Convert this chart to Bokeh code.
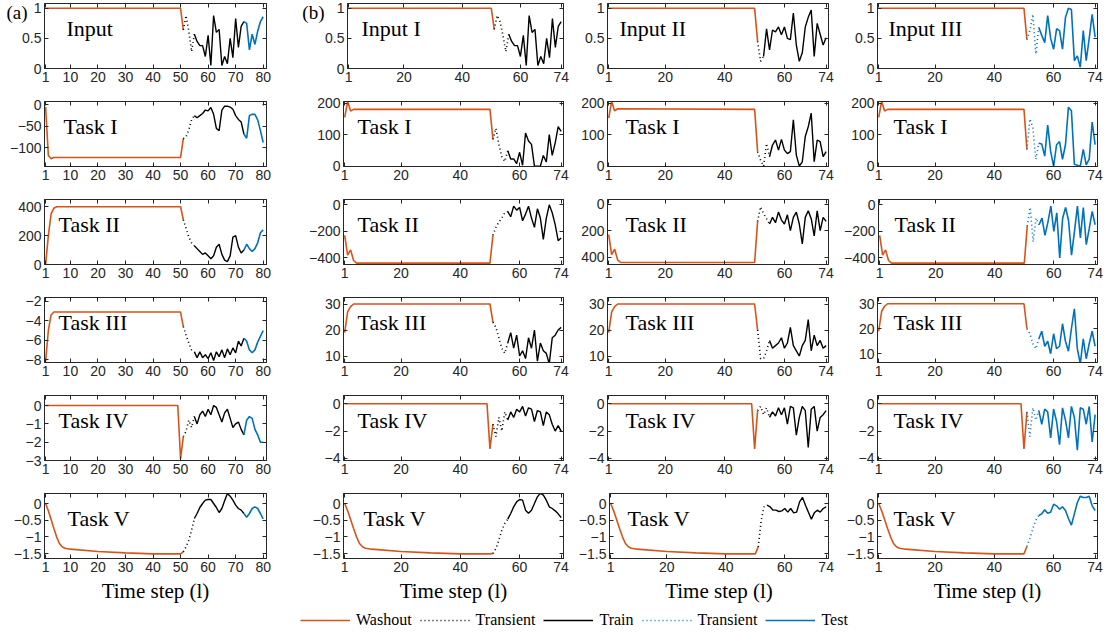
from bokeh.plotting import figure
from bokeh.models import (Range1d, FixedTicker, LinearAxis, Label, Legend, LegendItem,
                          CustomJSTickFormatter)
from bokeh.layouts import column, row
from bokeh.embed import file_html
from bokeh.resources import INLINE

# ---------------- data ----------------
# Column (a): time steps 1..80 ; washout (orange), transient (dotted black), train (black), test (blue)
A_IN_WASH_X = [1, 50, 51]
A_IN_WASH_Y = [1, 1, 0.64]
A_IN_TRANS = [0.64, 0.88, 0.62, 0.28, 0.57]                      # from 51
A_IN_TRAIN = [0.57, 0.45, 0.38, 0.38, 0.2, 0.55, 0.05, 0.88, 0.6, 0.65, 0.05, 0.2, 0.08, 0.5, 0.18, 0.83, 0.35, 0.7, 0.78]  # from 55
A_IN_TEST = [0.78, 0.75, 0.31, 0.57, 0.4, 0.62, 0.78, 0.86]     # from 73

A_T1_WASH_X = [1, 2, 3, 4, 50, 51]
A_T1_WASH_Y = [-5, -118, -126, -123, -123, -79]
A_T1_TRANS = [-79, -75, -58, -35, -25]
A_T1_TRAIN = [-25, -30, -25, -20, -12, -14, -6, -22, -55, -60, -12, -3, -3, -5, -10, -25, -34, -40, -68]
A_T1_TEST = [-68, -78, -25, -22, -22, -35, -60, -88]

A_T2_WASH_X = [1, 2, 3, 4, 5, 50, 51]
A_T2_WASH_Y = [0, 200, 350, 390, 400, 400, 310]
A_T2_TRANS = [310, 250, 190, 150, 130]
A_T2_TRAIN = [130, 110, 90, 70, 80, 60, 40, 60, 120, 140, 70, 30, 20, 60, 190, 200, 120, 80, 100]
A_T2_TEST = [100, 140, 110, 90, 110, 150, 220, 240]

A_T3_WASH_X = [1, 2, 3, 4, 50, 51]
A_T3_WASH_Y = [-8.2, -5, -3.4, -3.1, -3.1, -4.6]
A_T3_TRANS = [-4.6, -5.5, -6.3, -7.0, -7.2]
A_T3_TRAIN = [-7.2, -7.8, -7.2, -7.8, -7.5, -7.9, -7.3, -8.1, -7.2, -7.7, -7.0, -7.8, -6.9, -7.5, -6.8, -7.3, -6.1, -6.6, -5.8]
A_T3_TEST = [-5.8, -6.1, -7.0, -7.3, -7.0, -6.2, -5.6, -5.0]

A_T4_WASH_X = [1, 49, 50, 51]
A_T4_WASH_Y = [0, 0, -2.9, -1.7]
A_T4_TRANS = [-1.7, -1.4, -0.8, -1.2, -0.6]
A_T4_TRAIN = [-0.6, -1.0, -0.5, -0.3, -0.6, -0.2, -0.5, 0.0, -0.1, -0.5, -0.9, -0.4, -0.2, -0.7, -1.2, -1.0, -0.9, -1.3, -1.6]
A_T4_TEST = [-1.6, -0.8, -0.6, -0.7, -1.3, -1.6, -2.0, -2.0]

T5_WASH_X = [1, 2, 3, 4, 5, 6, 7, 8, 10, 20, 30, 40, 50]
T5_WASH_Y = [0, -0.22, -0.48, -0.75, -1.0, -1.2, -1.3, -1.34, -1.37, -1.44, -1.48, -1.51, -1.51]

A_T5_END = -1.45
A_T5_TRANS = [-1.45, -1.3, -1.1, -0.8, -0.45]
A_T5_TRAIN = [-0.45, -0.3, -0.12, 0.0, 0.1, 0.12, 0.12, 0.0, -0.12, -0.27, -0.15, 0.08, 0.3, 0.22, 0.1, -0.05, -0.15, -0.2, -0.3]
A_T5_TEST = [-0.3, -0.41, -0.3, -0.15, -0.1, -0.15, -0.3, -0.46]

# Column (b) left: time steps 1..74 (train only)
B_IN_WASH_Y = [1, 1, 0.65]
B_IN_TRANS = [0.65, 0.88, 0.78, 0.55, 0.28, 0.57]
B_IN_TRAIN = [0.57, 0.45, 0.38, 0.38, 0.2, 0.55, 0.05, 0.88, 0.6, 0.65, 0.05, 0.2, 0.08, 0.5, 0.18, 0.83, 0.35, 0.7, 0.78]

B_T1_WASH_Y = [155, 205, 175, 180, 180, 85]
B_T1_TRANS = [85, 120, 69, 30, 15, 49]
B_T1_TRAIN = [49, 23, 23, 8, 44, 3, 105, 80, 69, 0, 0, 0, 34, 13, 100, 34, 74, 125, 110]

B_T2_WASH_Y = [-230, -380, -340, -420, -440, -440, -230]
B_T2_TRANS = [-230, -170, -130, -100, -60, -50]
B_T2_TRAIN = [-50, -90, -10, -40, -20, -120, -70, -10, -100, -170, -30, -100, -260, -100, 0, -60, -150, -270, -250]

B_T3_WASH_Y = [19, 27, 29, 30, 30, 23]
B_T3_TRANS = [23, 21, 17, 13, 11, 15]
B_T3_TRAIN = [15, 19, 13, 18, 10, 12, 9, 17, 13, 20, 8, 15, 12, 11, 7, 17, 18, 20, 21]

B_T4_WASH_Y = [0, 0, -3.3, -1.5]
B_T4_TRANS = [-1.5, -2.4, -1.0, -2.0, -0.6, -1.2]
B_T4_TRAIN = [-1.2, -0.6, -1.0, -0.4, -0.6, -0.2, -0.9, -0.3, -0.4, -1.3, -0.5, -0.6, -1.6, -0.6, -0.8, -1.5, -2.0, -1.6, -2.0]

B_T5_END = -1.5
B_T5_TRANS = [-1.5, -1.35, -1.1, -0.8, -0.6, -0.47]
B_T5_TRAIN = [-0.47, -0.3, -0.1, 0.05, 0.12, 0.1, -0.2, -0.29, -0.2, 0.0, 0.2, 0.31, 0.25, 0.1, -0.1, -0.15, -0.22, -0.31, -0.42]

# Column (b) middle
C_IN_WASH_Y = [1, 1, 0.45]
C_IN_TRANS = [0.45, 0.12, 0.2]
C_IN_TRAIN = [0.2, 0.66, 0.31, 0.64, 0.61, 0.69, 0.56, 0.69, 0.5, 0.48, 0.92, 0.39, 0.12, 0.26, 0.69, 0.85, 0.97, 0.2, 0.75, 0.57, 0.39, 0.51]

C_T1_WASH_Y = [152, 205, 175, 182, 180, 46]
C_T1_TRANS = [46, 19, 0, 72, 30]
C_T1_TRAIN = [30, 67, 83, 51, 85, 51, 40, 46, 147, 35, 0, 14, 94, 125, 168, 14, 83, 78, 30, 46]

C_T2_WASH_Y = [230, 380, 340, 420, 440, 440, 130]
C_T2_TRANS = [130, 20, 70, 110, 150]
C_T2_TRAIN = [150, 100, 140, 60, 120, 150, 80, 200, 100, 60, 150, 300, 100, 50, 110, 240, 50, 200, 100, 130]

C_T3_WASH_Y = [19, 27, 29, 30, 30, 20]
C_T3_TRANS = [20, 9, 9, 12, 16]
C_T3_TRAIN = [16, 13, 14, 15, 17, 13, 15, 21, 14, 12, 10, 14, 16, 24, 12, 18, 14, 16, 13, 14]

C_T4_WASH_Y = [0, 0, -3.3, -0.5]
C_T4_TRANS = [-0.5, -0.2, -0.8, -0.3, -1.0]
C_T4_TRAIN = [-1.0, -0.6, -0.9, -0.3, -0.8, -0.3, -1.5, -0.2, -0.3, -2.3, -1.0, -0.2, -0.5, -3.2, -0.4, -0.2, -2.0, -1.0, -0.8, -0.5]

C_T5_END = -1.3
C_T5_TRANS = [-1.3, -0.5, -0.08, -0.05]
C_T5_TRAIN = [-0.05, -0.1, -0.2, -0.2, -0.24, -0.22, -0.15, -0.26, -0.15, -0.28, -0.26, 0.05, 0.18, -0.05, -0.26, -0.47, -0.28, -0.2, -0.26, -0.15, -0.1]

# Column (b) right (test only)
D_IN_WASH_Y = [1, 1, 0.48]
D_IN_TRANS = [0.48, 0.63, 0.9, 0.24, 0.68]
D_IN_TEST = [0.68, 0.55, 0.43, 0.88, 0.5, 0.32, 0.66, 0.63, 0.32, 0.85, 1.0, 0.98, 0.13, 0.21, 0.02, 0.63, 0.13, 0.5, 0.9, 0.52]

D_T1_WASH_Y = [155, 205, 175, 180, 180, 53]
D_T1_TRANS = [53, 150, 122, 22, 73]
D_T1_TEST = [73, 70, 32, 130, 47, 0, 68, 78, 22, 68, 187, 176, 6, 3, 0, 53, 4, 22, 140, 68]

D_T2_WASH_Y = [-230, -380, -340, -420, -440, -440, -160]
D_T2_TRANS = [-160, -20, -280, -100, -150]
D_T2_TEST = [-150, -100, -230, -130, -10, -200, -60, -400, -100, -20, -120, -380, -200, -10, -250, -20, -300, -180, -50, -150]

D_T3_WASH_Y = [19, 27, 29, 30, 30, 20]
D_T3_TRANS = [20, 18, 14, 12, 16]
D_T3_TEST = [16, 19, 13, 15, 10, 18, 12, 13, 22, 15, 11, 20, 28, 12, 6, 16, 8, 14, 19, 13]

D_T4_WASH_Y = [0, 0, -3.3, -0.6]
D_T4_TRANS = [-0.6, -2.4, -0.3, -1.2, -0.5]
D_T4_TEST = [-0.5, -1.5, -0.4, -0.6, -2.5, -0.4, -1.3, -3.0, -0.3, -1.2, -2.5, -0.2, -1.0, -3.4, -0.3, -0.4, -1.5, -0.2, -2.8, -0.8]

D_T5_END = -1.29
D_T5_TRANS = [-1.29, -1.04, -0.75, -0.5, -0.36]
D_T5_TEST = [-0.36, -0.31, -0.19, -0.29, -0.26, -0.02, -0.07, -0.17, -0.1, -0.21, -0.45, -0.65, -0.31, 0.03, 0.22, 0.18, 0.18, 0.22, -0.07, -0.21]

IN_X = [1, 50, 51]
T1_X = [1, 2, 3, 4, 50, 51]
T2_X = [1, 2, 3, 4, 5, 50, 51]
T3_X = [1, 2, 3, 4, 50, 51]
T4_X = [1, 49, 50, 51]

PANEL_NAMES = [
    ["Input", "Task I", "Task II", "Task III", "Task IV", "Task V"],
    ["Input I", "Task I", "Task II", "Task III", "Task IV", "Task V"],
    ["Input II", "Task I", "Task II", "Task III", "Task IV", "Task V"],
    ["Input III", "Task I", "Task II", "Task III", "Task IV", "Task V"],
]
PART_TAGS = ["(a)", "(b)", None, None]
X_TICKS = [[1, 10, 20, 30, 40, 50, 60, 70, 80], [1, 20, 40, 60, 74], [1, 20, 40, 60, 74], [1, 20, 40, 60, 74]]
Y_TICKS = [
    [[0, 0.5, 1], [-100, -50, 0], [0, 200, 400], [-8, -6, -4, -2], [-3, -2, -1, 0], [-1.5, -1, -0.5, 0]],
    [[0, 0.5, 1], [0, 100, 200], [-400, -200, 0], [10, 20, 30], [-4, -2, 0], [-1.5, -1, -0.5, 0]],
    [[0, 0.5, 1], [0, 100, 200], [0, 200, 400], [10, 20, 30], [-4, -2, 0], [-1.5, -1, -0.5, 0]],
    [[0, 0.5, 1], [0, 100, 200], [-400, -200, 0], [10, 20, 30], [-4, -2, 0], [-1.5, -1, -0.5, 0]],
]
LEGEND_LABELS = ["Washout", "Transient", "Train", "Transient", "Test"]


def seg(start, ys):
    return list(range(start, start + len(ys))), ys


PANELS = [
    [
        (A_IN_WASH_X, A_IN_WASH_Y, 51, A_IN_TRANS, (55, A_IN_TRAIN), (73, A_IN_TEST)),
        (A_T1_WASH_X, A_T1_WASH_Y, 51, A_T1_TRANS, (55, A_T1_TRAIN), (73, A_T1_TEST)),
        (A_T2_WASH_X, A_T2_WASH_Y, 51, A_T2_TRANS, (55, A_T2_TRAIN), (73, A_T2_TEST)),
        (A_T3_WASH_X, A_T3_WASH_Y, 51, A_T3_TRANS, (55, A_T3_TRAIN), (73, A_T3_TEST)),
        (A_T4_WASH_X, A_T4_WASH_Y, 51, A_T4_TRANS, (55, A_T4_TRAIN), (73, A_T4_TEST)),
        (T5_WASH_X + [51], T5_WASH_Y + [A_T5_END], 51, A_T5_TRANS, (55, A_T5_TRAIN), (73, A_T5_TEST)),
    ],
    [
        (IN_X, B_IN_WASH_Y, 51, B_IN_TRANS, (56, B_IN_TRAIN), None),
        (T1_X, B_T1_WASH_Y, 51, B_T1_TRANS, (56, B_T1_TRAIN), None),
        (T2_X, B_T2_WASH_Y, 51, B_T2_TRANS, (56, B_T2_TRAIN), None),
        (T3_X, B_T3_WASH_Y, 51, B_T3_TRANS, (56, B_T3_TRAIN), None),
        (T4_X, B_T4_WASH_Y, 51, B_T4_TRANS, (56, B_T4_TRAIN), None),
        (T5_WASH_X + [51], T5_WASH_Y + [B_T5_END], 51, B_T5_TRANS, (56, B_T5_TRAIN), None),
    ],
    [
        (IN_X, C_IN_WASH_Y, 51, C_IN_TRANS, (53, C_IN_TRAIN), None),
        (T1_X, C_T1_WASH_Y, 51, C_T1_TRANS, (55, C_T1_TRAIN), None),
        (T2_X, C_T2_WASH_Y, 51, C_T2_TRANS, (55, C_T2_TRAIN), None),
        (T3_X, C_T3_WASH_Y, 51, C_T3_TRANS, (55, C_T3_TRAIN), None),
        (T4_X, C_T4_WASH_Y, 51, C_T4_TRANS, (55, C_T4_TRAIN), None),
        (T5_WASH_X + [51], T5_WASH_Y + [C_T5_END], 51, C_T5_TRANS, (54, C_T5_TRAIN), None),
    ],
    [
        (IN_X, D_IN_WASH_Y, 51, D_IN_TRANS, None, (55, D_IN_TEST)),
        (T1_X, D_T1_WASH_Y, 51, D_T1_TRANS, None, (55, D_T1_TEST)),
        (T2_X, D_T2_WASH_Y, 51, D_T2_TRANS, None, (55, D_T2_TEST)),
        (T3_X, D_T3_WASH_Y, 51, D_T3_TRANS, None, (55, D_T3_TEST)),
        (T4_X, D_T4_WASH_Y, 51, D_T4_TRANS, None, (55, D_T4_TEST)),
        (T5_WASH_X + [51], T5_WASH_Y + [D_T5_END], 51, D_T5_TRANS, None, (55, D_T5_TEST)),
    ],
]

# ---------------- layout / style ----------------
ORANGE = "#D95319"
BLUE = "#0072BD"
INK = "#262626"
TICK_FONT = "Liberation Sans"
SERIF = "Liberation Serif"

X_RANGES = [(0.6, 81.2), (0.6, 74.8), (0.6, 74.8), (0.6, 74.8)]
Y_RANGES = [
    [(0, 1.08), (-144, 8), (0, 450), (-8.3, -1.6), (-3.0, 0.55), (-1.65, 0.3)],
    [(0, 1.08), (-1, 205), (-450, 40), (7.5, 32.5), (-4.15, 0.6), (-1.65, 0.3)],
    [(0, 1.08), (-1, 205), (455, -35), (7.5, 32.5), (-4.15, 0.6), (-1.65, 0.3)],
    [(0, 1.08), (-1, 205), (-450, 40), (6.5, 32.5), (-4.15, 0.6), (-1.65, 0.3)],
]
BORDER_L = [44, 44, 32, 37]
BORDER_R = [33, 12, 12, 8]
FRAME_W = [222, 220, 221, 220]
FRAME_H = 65
BORDER_T = [3, 6, 6, 6, 6, 6]
BORDER_B = [27, 27, 27, 27, 27, 48]
TAG_STANDOFF = [-8, -2]
TAG_TICK = 0.93
LABEL_DX = [[22, 19, 14, 14, 14, 23], [14, 14, 14, 14, 14, 20], [12, 18, 18, 18, 18, 18], [11, 16, 16, 16, 16, 16]]
LABEL_DY = 25


def style_axis(ax, ticks, show_labels=True):
    ax.ticker = FixedTicker(ticks=ticks)
    ax.major_tick_in = 4
    ax.major_tick_out = 0
    ax.minor_tick_line_color = None
    ax.axis_line_color = INK
    ax.major_tick_line_color = INK
    if show_labels:
        ax.major_label_text_font = TICK_FONT
        ax.major_label_text_font_size = "14px"
        ax.major_label_text_color = INK
        ax.major_label_standoff = 3
    else:
        ax.major_label_text_font_size = "1px"
        ax.major_label_text_color = None
        ax.major_label_standoff = 0


def make_panel(ci, ri):
    bb = BORDER_B[ri]
    bt = BORDER_T[ri]
    p = figure(
        width=BORDER_L[ci] + FRAME_W[ci] + BORDER_R[ci],
        height=bt + FRAME_H + bb,
        x_range=Range1d(*X_RANGES[ci]),
        y_range=Range1d(*Y_RANGES[ci][ri]),
        output_backend="svg",
        toolbar_location=None,
        min_border_left=BORDER_L[ci],
        min_border_right=BORDER_R[ci],
        min_border_top=bt,
        min_border_bottom=bb,
        outline_line_color=INK,
        background_fill_color="white",
        border_fill_color="white",
    )
    p.xgrid.visible = False
    p.ygrid.visible = False
    bottom_ax = p.below[0]
    left_ax = p.left[0]
    style_axis(bottom_ax, X_TICKS[ci])
    style_axis(left_ax, Y_TICKS[ci][ri])
    top = LinearAxis()
    style_axis(top, X_TICKS[ci], show_labels=False)
    p.add_layout(top, "above")
    right = LinearAxis()
    style_axis(right, Y_TICKS[ci][ri], show_labels=False)
    p.add_layout(right, "right")
    if ri == 5:
        bottom_ax.axis_label = "Time step (l)"
        bottom_ax.axis_label_text_font = SERIF
        bottom_ax.axis_label_text_font_size = "21px"
        bottom_ax.axis_label_text_font_style = "normal"
        bottom_ax.axis_label_text_color = "black"
        bottom_ax.axis_label_standoff = 4
    if ri == 0 and PART_TAGS[ci]:
        tag = LinearAxis(ticker=FixedTicker(ticks=[TAG_TICK]),
                         formatter=CustomJSTickFormatter(code="return '%s';" % PART_TAGS[ci]),
                         major_label_text_font=SERIF, major_label_text_font_size="19px",
                         major_label_text_color="black", major_label_standoff=TAG_STANDOFF[ci],
                         major_tick_in=0, major_tick_out=0, major_tick_line_color=None,
                         minor_tick_line_color=None, axis_line_color=None)
        p.add_layout(tag, "left")

    wx, wy, ts, ty, train, test = PANELS[ci][ri]
    p.line(wx, wy, line_color=ORANGE, line_width=1.6)
    tx, tyv = seg(ts, ty)
    trans_color = BLUE if (train is None) else "black"
    p.line(tx, tyv, line_color=trans_color, line_width=1.6, line_dash="1 3")
    if train is not None:
        x, y = seg(*train)
        p.line(x, y, line_color="black", line_width=1.4)
    if test is not None:
        x, y = seg(*test)
        p.line(x, y, line_color=BLUE, line_width=1.6)

    p.add_layout(Label(x=LABEL_DX[ci][ri], y=FRAME_H - LABEL_DY, x_units="screen", y_units="screen",
                       text=PANEL_NAMES[ci][ri], text_font=SERIF, text_font_size="22px",
                       text_baseline="middle", text_color="black"))
    return p


rows = []
for ri in range(6):
    rows.append(row([make_panel(ci, ri) for ci in range(4)], spacing=0))

TOTAL_W = sum(BORDER_L) + sum(FRAME_W) + sum(BORDER_R)
lg = figure(width=TOTAL_W, height=28, output_backend="svg", toolbar_location=None,
            min_border=0, outline_line_color=None, x_range=Range1d(0, 1), y_range=Range1d(0, 1))
lg.axis.visible = False
lg.grid.visible = False
styles = [dict(line_color=ORANGE, line_width=1.6),
          dict(line_color="black", line_width=1.6, line_dash="1 3"),
          dict(line_color="black", line_width=1.6),
          dict(line_color=BLUE, line_width=1.6, line_dash="1 3"),
          dict(line_color=BLUE, line_width=1.6)]
items = []
for lab, st in zip(LEGEND_LABELS, styles):
    r = lg.line([5, 6], [5, 6], **st)
    items.append(LegendItem(label=lab, renderers=[r]))
legend = Legend(items=items, orientation="horizontal", location=(300, 5),
                glyph_width=50, glyph_height=18, label_standoff=6, spacing=8, padding=0, margin=0,
                label_text_font=SERIF, label_text_font_size="16px", label_height=18,
                label_text_color="black",
                border_line_color=None, background_fill_alpha=0)
lg.add_layout(legend, "center")

layout = column(rows + [lg], spacing=0)
open("out.html", "w").write(file_html(layout, INLINE))
